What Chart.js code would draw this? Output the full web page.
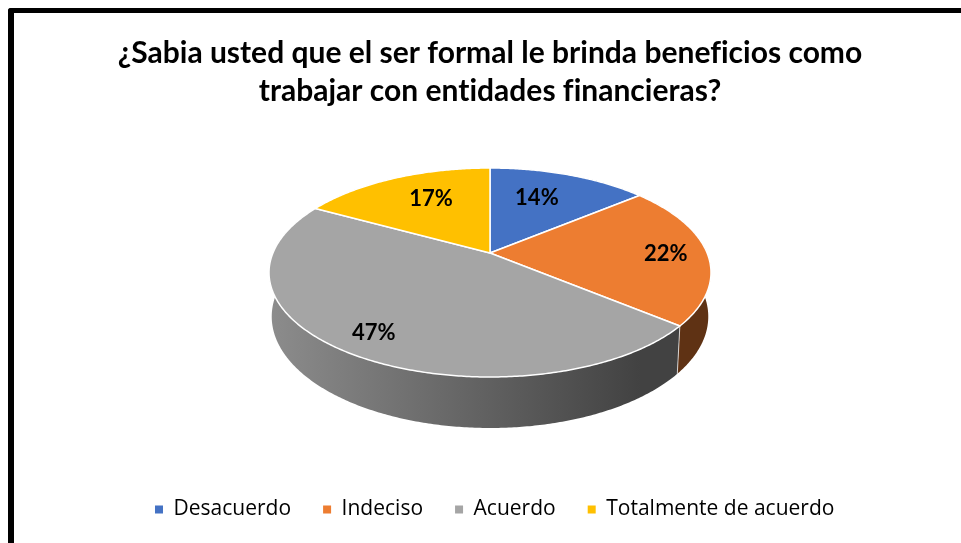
<!DOCTYPE html>
<html lang="es">
<head>
  <meta charset="UTF-8" />
  <title>Beneficios de ser formal</title>
  <script src="https://cdn.jsdelivr.net/npm/chart.js"></script>
  <style>
    html, body { margin: 0; height: 100%; background: #fff; overflow: hidden; }
    #frame { position: absolute; left: 8px; top: 8px; width: 1000px; height: 600px; border: solid #000; border-width: 5px 0 0 6px; border-top-left-radius: 3px; }
    #pie { position: absolute; left: 0; top: 0; }
  </style>
</head>
<body>
  <div id="frame"></div>
  <canvas id="pie" width="980" height="543"></canvas>

  <script>
    const titleLines = ['¿Sabia usted que el ser formal le brinda beneficios como', 'trabajar con entidades financieras?'];
    const categories = ['Desacuerdo', 'Indeciso', 'Acuerdo', 'Totalmente de acuerdo'];
    const percentValues = [14, 22, 47, 17];
    const sliceColors = ['#4472c4', '#ed7d31', '#a5a5a5', '#ffc000'];

    // label placement: fraction of the radius, then a small nudge in px
    const labelRadius = [0.66, 0.81, 0.83, 0.66];
    const labelNudge = [[-8, -1], [0, 1], [0, 0], [7, -2]];

    // perspective of the tilted disc, the circle of unit radius goes to screen through this
    const view = { scaleX: 217.1, scaleY: 53.65, apexY: 253, tilt: -0.1866, dropY: 46.6, dropW: 0.012 };

    function project(cx, u, v, depth) {
      const w = 1 + view.tilt * v + view.dropW * depth;
      return {
        x: cx + view.scaleX * u / w,
        y: (view.scaleY * v + view.apexY + view.dropY * depth) / w
      };
    }

    function arcPoints(cx, from, to, depth) {
      const pts = [];
      const steps = Math.max(2, Math.ceil(Math.abs(to - from) / 0.01));
      for (let i = 0; i <= steps; i++) {
        const a = from + (to - from) * i / steps;
        pts.push(project(cx, Math.cos(a), Math.sin(a), depth));
      }
      return pts;
    }

    function shade(hex, f) {
      const n = parseInt(hex.slice(1), 16);
      return `rgb(${Math.round((n >> 16) * f)},${Math.round(((n >> 8) & 255) * f)},${Math.round((n & 255) * f)})`;
    }

    const pie3d = {
      id: 'pie3d',
      afterLayout(chart) {
        // the legend sits a little right of the title in the original
        chart.legend.left += 4.5;
        chart.legend.right += 4.5;
      },
      beforeDraw(chart) {
        // no fi / ti ligatures in the title
        chart.ctx.letterSpacing = '0.01px';
      },
      beforeDatasetsDraw(chart) {
        const ctx = chart.ctx;
        const arcs = chart.getDatasetMeta(0).data;
        ctx.save();

        // side wall
        arcs.forEach((arc, i) => {
          const top = arcPoints(arc.x, arc.startAngle, arc.endAngle, 0);
          const bottom = arcPoints(arc.x, arc.startAngle, arc.endAngle, 1).reverse();
          const g = ctx.createLinearGradient(270, 0, 711, 0);
          g.addColorStop(0, shade(sliceColors[i], 0.85));
          g.addColorStop(0.84, shade(sliceColors[i], 0.4));
          g.addColorStop(1, shade(sliceColors[i], 0.4));
          ctx.beginPath();
          top.concat(bottom).forEach(p => ctx.lineTo(p.x, p.y));
          ctx.closePath();
          ctx.fillStyle = g;
          ctx.fill();
        });

        // white seam where the side walls meet
        arcs.forEach(arc => {
          if (Math.sin(arc.endAngle) > 0) {
            const a = project(arc.x, Math.cos(arc.endAngle), Math.sin(arc.endAngle), 0);
            const b = project(arc.x, Math.cos(arc.endAngle), Math.sin(arc.endAngle), 1);
            ctx.beginPath();
            ctx.moveTo(a.x, a.y);
            ctx.lineTo(b.x, b.y);
            ctx.strokeStyle = 'rgba(255,255,255,0.7)';
            ctx.lineWidth = 1;
            ctx.stroke();
          }
        });

        // top face
        arcs.forEach((arc, i) => {
          const apex = project(arc.x, 0, 0, 0);
          ctx.beginPath();
          ctx.moveTo(apex.x, apex.y);
          arcPoints(arc.x, arc.startAngle, arc.endAngle, 0).forEach(p => ctx.lineTo(p.x, p.y));
          ctx.closePath();
          ctx.fillStyle = sliceColors[i];
          ctx.fill();
          ctx.strokeStyle = '#fff';
          ctx.lineWidth = 1.5;
          ctx.lineJoin = 'round';
          ctx.stroke();
        });

        // percent labels
        ctx.fillStyle = '#000';
        ctx.font = 'bold 22px Lato';
        ctx.textAlign = 'center';
        ctx.textBaseline = 'middle';
        arcs.forEach((arc, i) => {
          const mid = (arc.startAngle + arc.endAngle) / 2;
          const p = project(arc.x, labelRadius[i] * Math.cos(mid), labelRadius[i] * Math.sin(mid), 0);
          ctx.fillText(percentValues[i] + '%', p.x + labelNudge[i][0], p.y + labelNudge[i][1]);
        });

        ctx.restore();
        return false;
      }
    };

    new Chart(document.getElementById('pie'), {
      type: 'pie',
      data: {
        labels: categories,
        datasets: [{ data: percentValues, backgroundColor: sliceColors, borderWidth: 0 }]
      },
      options: {
        responsive: false,
        animation: false,
        layout: { padding: { top: 34, bottom: 13 } },
        plugins: {
          title: {
            display: true,
            text: titleLines,
            color: '#000',
            font: { family: 'Lato', size: 30, weight: 'bold', lineHeight: 1.27 },
            padding: { top: 0, bottom: 10 }
          },
          legend: {
            position: 'bottom',
            labels: {
              color: '#000',
              boxWidth: 8,
              boxHeight: 8,
              padding: 32,
              font: { family: 'Open Sans', size: 21 }
            }
          },
          tooltip: { enabled: false }
        }
      },
      plugins: [pie3d]
    });
  </script>
</body>
</html>
